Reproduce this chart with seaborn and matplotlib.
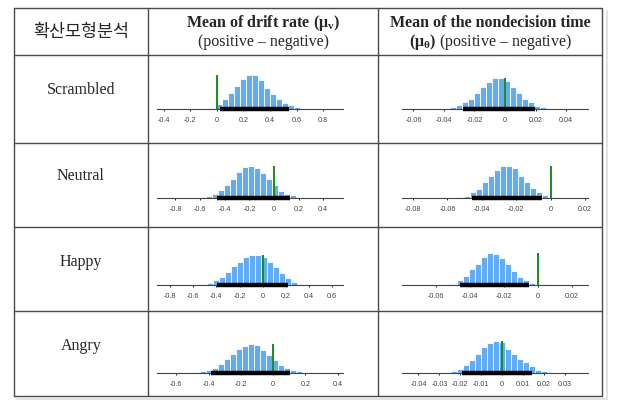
import numpy as np
import pandas as pd
import matplotlib
matplotlib.use("Agg")
import matplotlib.pyplot as plt
import seaborn as sns

sns.set_style("white")
plt.rcParams['font.family'] = ['Liberation Serif', 'Noto Sans CJK KR', 'DejaVu Sans']
plt.rcParams['mathtext.fontset'] = 'custom'
plt.rcParams['mathtext.rm'] = 'Liberation Serif'
plt.rcParams['mathtext.bf'] = 'Liberation Serif:bold'
plt.rcParams['mathtext.it'] = 'Liberation Serif:italic'

# ---- table text ----
corner_label = '확산모형분석'
row_labels = ['Scrambled', 'Neutral', 'Happy', 'Angry']

# ---- posterior histograms (bin centres, bar heights, 95% HDI) ----
# drift rate, positive - negative
scr_drift_x = [-0.073, -0.028, 0.017, 0.062, 0.107, 0.152, 0.197, 0.242, 0.287, 0.332,
               0.377, 0.422, 0.467, 0.512, 0.557, 0.602, 0.647]
scr_drift_n = [0.5, 1, 5, 10, 16, 23, 30, 34, 34, 29, 21, 15, 10, 6, 4, 2, 1]
scr_drift_hdi = [0.027, 0.545]
scr_drift_ticks = [-0.4, -0.2, 0, 0.2, 0.4, 0.6, 0.8]
scr_drift_lim = [-0.45, 0.95]

neu_drift_x = [-0.622, -0.573, -0.525, -0.476, -0.428, -0.379, -0.330, -0.282, -0.233, -0.184,
               -0.136, -0.087, -0.038, 0.010, 0.059, 0.108, 0.156, 0.205]
neu_drift_n = [0.5, 1, 2, 4, 7.7, 13, 19, 25.7, 30.7, 32, 30, 25, 19, 12.7, 7.3, 4, 2.7, 1]
neu_drift_hdi = [-0.46, 0.13]
neu_drift_ticks = [-0.8, -0.6, -0.4, -0.2, 0, 0.2, 0.4]
neu_drift_lim = [-0.95, 0.56]

hap_drift_x = [-0.506, -0.454, -0.403, -0.351, -0.299, -0.248, -0.196, -0.145, -0.093,
               -0.041, 0.010, 0.062, 0.114, 0.165, 0.217, 0.268, 0.320]
hap_drift_n = [1, 2, 5, 8.3, 13.3, 19, 23.3, 27.7, 30.3, 30.3, 28.3, 23.3, 17.7, 11.7, 6.7, 3.3, 1.5]
hap_drift_hdi = [-0.397, 0.22]
hap_drift_ticks = [-0.8, -0.6, -0.4, -0.2, 0, 0.2, 0.4, 0.6]
hap_drift_lim = [-0.913, 0.693]

ang_drift_x = [-0.469, -0.432, -0.395, -0.358, -0.321, -0.284, -0.247, -0.210, -0.173, -0.136,
               -0.099, -0.062, -0.025, 0.012, 0.049, 0.086, 0.123, 0.160, 0.197, 0.234]
ang_drift_n = [1.5, 2, 3.3, 5.3, 9.3, 14, 19.3, 24.3, 27, 29.3, 27.7, 22.7, 17.7, 12.7, 8.3,
               5, 3.3, 2.5, 1.5, 0.8]
ang_drift_hdi = [-0.387, 0.108]
ang_drift_ticks = [-0.6, -0.4, -0.2, 0, 0.2, 0.4]
ang_drift_lim = [-0.72, 0.434]

# nondecision time, positive - negative
scr_ndt_x = [-0.0377, -0.0338, -0.0299, -0.0260, -0.0221, -0.0182, -0.0143, -0.0104, -0.0065,
             -0.0026, 0.0013, 0.0052, 0.0091, 0.0130, 0.0169, 0.0208, 0.0247, 0.0286]
scr_ndt_n = [1, 2.5, 4, 6.7, 10, 16, 22, 27, 31, 31, 28, 22, 16, 10, 6.7, 3.3, 2, 1]
scr_ndt_hdi = [-0.0274, 0.0196]
scr_ndt_ticks = [-0.06, -0.04, -0.02, 0, 0.02, 0.04]
scr_ndt_lim = [-0.0675, 0.0544]

neu_ndt_x = [-0.0522, -0.0487, -0.0452, -0.0417, -0.0382, -0.0348, -0.0313, -0.0278, -0.0243,
             -0.0209, -0.0174, -0.0139, -0.0104, -0.0069, -0.0035, 0.0]
neu_ndt_n = [1, 2, 5.7, 9, 15.7, 22.3, 28.3, 32.3, 32.3, 30, 22.3, 15.7, 10, 5.7, 3, 1]
neu_ndt_hdi = [-0.0458, -0.0048]
neu_ndt_ticks = [-0.08, -0.06, -0.04, -0.02, 0, 0.02]
neu_ndt_lim = [-0.0864, 0.0217]

hap_ndt_x = [-0.0492, -0.0457, -0.0421, -0.0386, -0.0351, -0.0316, -0.0281, -0.0246, -0.0211,
             -0.0176, -0.0140, -0.0105, -0.0070, -0.0035, 0.0, 0.0035]
hap_ndt_n = [1.5, 5, 9, 15.7, 21, 28.3, 31.7, 31, 26.7, 20.7, 14, 8.3, 5, 2.5, 1, 0.7]
hap_ndt_hdi = [-0.046, -0.0053]
hap_ndt_ticks = [-0.06, -0.04, -0.02, 0, 0.02]
hap_ndt_lim = [-0.0798, 0.0294]

ang_ndt_x = [-0.0257, -0.0229, -0.0200, -0.0171, -0.0143, -0.0114, -0.0086, -0.0057, -0.0029,
             0.0, 0.0029, 0.0057, 0.0086, 0.0114, 0.0143, 0.0172, 0.0200, 0.0229]
ang_ndt_n = [1, 2, 4.3, 7.7, 12.7, 19.3, 26, 30, 32.3, 31, 24.3, 18.7, 14.3, 11, 6.7, 3.3, 2, 1]
ang_ndt_hdi = [-0.0192, 0.0146]
ang_ndt_ticks = [-0.04, -0.03, -0.02, -0.01, 0, 0.01, 0.02, 0.03]
ang_ndt_lim = [-0.0479, 0.0412]

# height of the green reference line at zero, per row (drift, ndt)
zero_line_drift = [34, 32, 30, 29.3]
zero_line_ndt = [31, 32, 31.7, 32]

drift_panels = [
    (scr_drift_x, scr_drift_n, scr_drift_hdi, scr_drift_ticks, scr_drift_lim),
    (neu_drift_x, neu_drift_n, neu_drift_hdi, neu_drift_ticks, neu_drift_lim),
    (hap_drift_x, hap_drift_n, hap_drift_hdi, hap_drift_ticks, hap_drift_lim),
    (ang_drift_x, ang_drift_n, ang_drift_hdi, ang_drift_ticks, ang_drift_lim),
]
ndt_panels = [
    (scr_ndt_x, scr_ndt_n, scr_ndt_hdi, scr_ndt_ticks, scr_ndt_lim),
    (neu_ndt_x, neu_ndt_n, neu_ndt_hdi, neu_ndt_ticks, neu_ndt_lim),
    (hap_ndt_x, hap_ndt_n, hap_ndt_hdi, hap_ndt_ticks, hap_ndt_lim),
    (ang_ndt_x, ang_ndt_n, ang_ndt_hdi, ang_ndt_ticks, ang_ndt_lim),
]

# ---- layout in pixels ----
W, H = 618, 403
col_x = [14, 148, 378, 602]
row_y = [8, 55, 143, 227, 311, 396]
axis_y = [109, 198, 285, 373]
plot_lr = [(157, 343), (402, 588)]
label_y = [90, 176, 262, 346]
panel_h = 42

BAR = '#62acf2'
GREEN = '#1c8c1c'
LINE = '#4a4a4a'


def draw_panel(fig, left, right, base_y, centers, counts, hdi, ticks, lim, zero_h):
    ax = fig.add_axes([left / W, 1 - base_y / H, (right - left) / W, panel_h / H])
    df = pd.DataFrame({'x': centers, 'n': counts})
    w = np.diff(df['x']).mean()
    edges = np.append(df['x'] - w / 2, df['x'].iloc[-1] + w / 2).tolist()
    sns.histplot(data=df, x='x', weights='n', bins=edges, ax=ax, color=BAR, alpha=1,
                 edgecolor='white', linewidth=0.6, zorder=2)
    # green line at zero
    ax.plot([0, 0], [0, zero_h], color=GREEN, lw=1.4, zorder=3, solid_capstyle='butt')
    # thick black HDI bar on the axis
    ax.plot(hdi, [0, 0], color='black', lw=3.2, solid_capstyle='butt', zorder=4, clip_on=False)
    ax.set_xlim(lim)
    ax.set_ylim(0, panel_h)
    ax.set_xticks(ticks)
    ax.set_xticklabels([f"{t:g}" for t in ticks], fontsize=5.2, color='#444444',
                       family='Liberation Sans')
    ax.tick_params(axis='x', length=1.5, width=0.7, pad=4.5, color='#333333', direction='out',
                   bottom=True)
    ax.set_yticks([])
    ax.set_xlabel('')
    ax.set_ylabel('')
    for s in ['top', 'left', 'right']:
        ax.spines[s].set_visible(False)
    ax.spines['bottom'].set_color('#444444')
    ax.spines['bottom'].set_linewidth(0.8)
    ax.patch.set_alpha(0)


fig = plt.figure(figsize=(W / 100, H / 100), dpi=100)
base = fig.add_axes([0, 0, 1, 1])
base.set_xlim(0, W)
base.set_ylim(H, 0)
base.axis('off')

# faint shadow of the scanned table
base.plot([col_x[-1] + 5, col_x[-1] + 5], [row_y[0] + 3, row_y[-1] + 3], color='#dddddd', lw=1.2)
base.plot([col_x[0] + 3, col_x[-1] + 5], [row_y[-1] + 3, row_y[-1] + 3], color='#dddddd', lw=1.2)

# table grid
for y in row_y:
    base.plot([col_x[0], col_x[-1]], [y, y], color=LINE, lw=1.0)
for x in col_x:
    base.plot([x, x], [row_y[0], row_y[-1]], color=LINE, lw=1.0)

c1 = (col_x[0] + col_x[1]) / 2
c2 = (col_x[1] + col_x[2]) / 2
c3 = (col_x[2] + col_x[3]) / 2

base.text(c1, 32, corner_label, ha='center', va='center', fontsize=12.5, fontweight='medium',
          family=['Noto Sans CJK KR', 'DejaVu Sans'])
base.text(c2, 23, r'Mean of drift rate ($\mathbf{\mu_{v}}$)', ha='center', va='center',
          fontsize=11.5, fontweight='bold')
base.text(c2, 42, '(positive – negative)', ha='center', va='center', fontsize=11.5)
base.text(c3, 23, 'Mean of the nondecision time', ha='center', va='center',
          fontsize=11.5, fontweight='bold')
base.text(c3, 42, r'$\mathbf{(\mu_{\theta})}$ (positive – negative)', ha='center', va='center',
          fontsize=11.5)

for i, lab in enumerate(row_labels):
    base.text(c1, label_y[i], lab, ha='center', va='center', fontsize=11.5)

for i in range(4):
    x, n, hdi, ticks, lim = drift_panels[i]
    draw_panel(fig, plot_lr[0][0], plot_lr[0][1], axis_y[i], x, n, hdi, ticks, lim, zero_line_drift[i])
    x, n, hdi, ticks, lim = ndt_panels[i]
    draw_panel(fig, plot_lr[1][0], plot_lr[1][1], axis_y[i], x, n, hdi, ticks, lim, zero_line_ndt[i])

fig.savefig('out.png', dpi=100)
